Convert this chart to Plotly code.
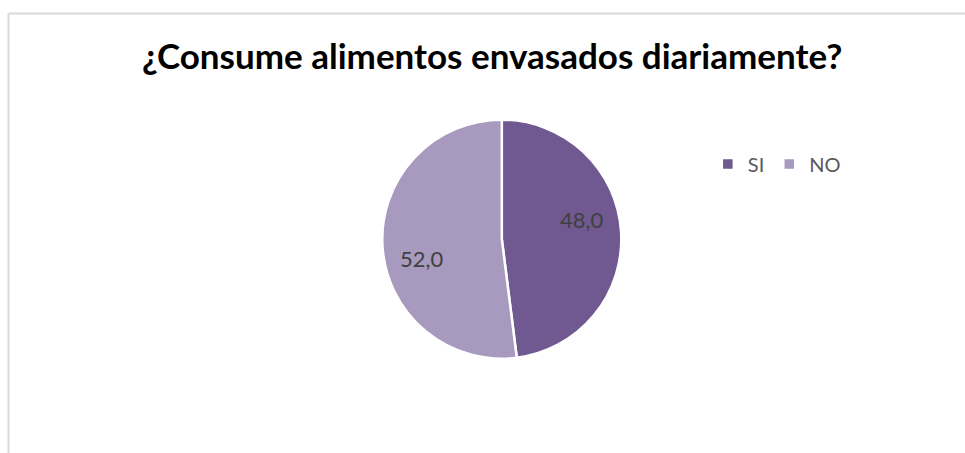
import math
import plotly.graph_objects as go

# Survey answers and their percentages
categories = ["SI", "NO"]
values = [48.0, 52.0]
colors = ["#705890", "#a899bf"]
title_text = "¿Consume alimentos envasados diariamente?"

W, H = 965, 453

# Pie placement (paper fractions) and data-label styling
pie_x = [0.32, 0.72]
pie_y = [0.2082, 0.7358]
label_radius = 0.69      # fraction of the pie radius
label_turn = -10.0       # degrees, nudges labels counter-clockwise

fig = go.Figure(
    go.Pie(
        labels=categories,
        values=values,
        textinfo="none",
        marker=dict(colors=colors, line=dict(color="white", width=2.5)),
        sort=False,
        direction="clockwise",
        rotation=0,
        domain=dict(x=pie_x, y=pie_y),
        hoverinfo="label+value",
    )
)

# Data labels placed along each slice's mid-angle
cx = (pie_x[0] + pie_x[1]) / 2 * W
cy = (1 - (pie_y[0] + pie_y[1]) / 2) * H
radius = min((pie_x[1] - pie_x[0]) * W, (pie_y[1] - pie_y[0]) * H) / 2
total = sum(values)
annotations = []
start = 0.0
for v in values:
    mid = start + v / total * 360.0 / 2 + label_turn
    start += v / total * 360.0
    a = math.radians(mid)
    px = cx + label_radius * radius * math.sin(a)
    py = cy - label_radius * radius * math.cos(a)
    annotations.append(dict(
        text=f"{v:.1f}".replace(".", ","),
        x=px / W, y=1 - py / H, xref="paper", yref="paper",
        xanchor="center", yanchor="middle", showarrow=False,
        font=dict(family="Lato", size=22, color="#404040"),
    ))

annotations.append(dict(
    text=f"<b>{title_text}</b>",
    x=492 / W,
    y=1 - 55 / H,
    xref="paper",
    yref="paper",
    xanchor="center",
    yanchor="middle",
    showarrow=False,
    font=dict(family="Lato", size=35, color="#000000"),
))

fig.update_layout(
    width=W,
    height=H,
    margin=dict(l=0, r=0, t=0, b=0),
    paper_bgcolor="white",
    plot_bgcolor="white",
    showlegend=True,
    legend=dict(
        orientation="h",
        x=0.7335,
        y=1 - 164 / H,
        xanchor="left",
        yanchor="middle",
        font=dict(family="Lato", size=20, color="#595959"),
        itemwidth=30,
        traceorder="normal",
    ),
    annotations=annotations,
    shapes=[
        dict(type="line", xref="paper", yref="paper",
             x0=8.5 / W, x1=1, y0=1 - 13.5 / H, y1=1 - 13.5 / H,
             line=dict(color="#d9d9d9", width=2)),
        dict(type="line", xref="paper", yref="paper",
             x0=8.5 / W, x1=8.5 / W, y0=0, y1=1 - 13.5 / H,
             line=dict(color="#d9d9d9", width=2)),
    ],
)

fig.write_html("out.html")
